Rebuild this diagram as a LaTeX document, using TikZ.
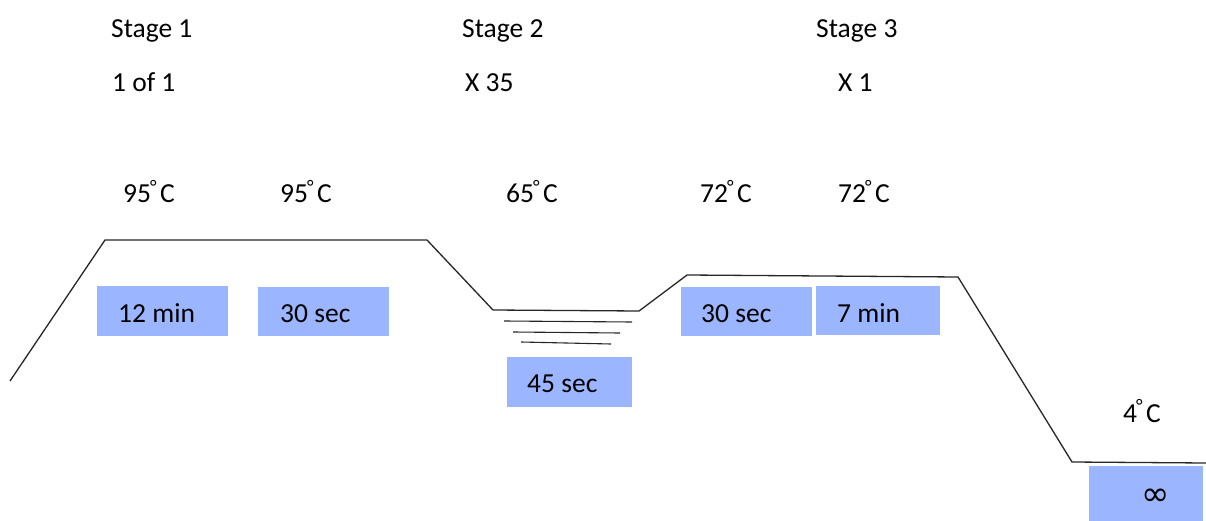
\documentclass[tikz,border=0pt]{standalone}
\usepackage{fontspec}
\setmainfont{Carlito}
\newfontfamily\symfont{DejaVu Sans}
\definecolor{boxblue}{RGB}{155,182,255}
\newcommand{\degC}{\kern-1pt\textsuperscript{°}\kern3pt C}
\tikzset{
  lbl/.style={anchor=base west, inner sep=0pt, font=\fontsize{27.5}{32}\selectfont},
  tbox/.style={fill=boxblue, draw=none},
  curve/.style={line width=1.3pt, draw=black!85},
  tick/.style={line width=1.1pt, draw=black!85}
}
\begin{document}
\begin{tikzpicture}[x=1pt,y=-1pt]
\useasboundingbox (0,0) rectangle (1206,521);
% boxes
\fill[tbox] (97,286) rectangle (228,336);
\fill[tbox] (258,287) rectangle (389,336);
\fill[tbox] (507,357) rectangle (632,407);
\fill[tbox] (681,287) rectangle (812,336);
\fill[tbox] (816,286) rectangle (940,335);
\fill[tbox] (1089,466) rectangle (1203,521);
% profile
\draw[curve] (10,381) -- (105,240) -- (427,240) -- (493,310) -- (639,311) -- (687,275) -- (958,277) -- (1072,462) -- (1206,463);
% hold lines
\draw[tick] (504,321) -- (632,322);
\draw[tick] (513,332) -- (620,333);
\draw[tick] (521,342) -- (611,344);
% headers
\node[lbl] (s1) at (111,38) {Stage 1};
\node[lbl] (r1) at (112,92) {1 of 1};
\node[lbl] (s2) at (462,38) {Stage 2};
\node[lbl] (r2) at (465,92) {X 35};
\node[lbl] (s3) at (816,38) {Stage 3};
\node[lbl] (r3) at (838,92) {X 1};
% temperatures
\node[lbl] (t1) at (123,203) {95\degC};
\node[lbl] (t2) at (280,203) {95\degC};
\node[lbl] (t3) at (506,203) {65\degC};
\node[lbl] (t4) at (700,203) {72\degC};
\node[lbl] (t5) at (838,203) {72\degC};
\node[lbl] (t6) at (1123,422) {4\degC};
% times
\node[lbl] (d1) at (118,322) {12 min};
\node[lbl] (d2) at (280,322) {30 sec};
\node[lbl] (d3) at (527,392) {45 sec};
\node[lbl] (d4) at (701,322) {30 sec};
\node[lbl] (d5) at (837,322) {7 min};
\node[anchor=center, inner sep=0pt, font=\symfont\fontsize{34}{34}\selectfont] (d6) at (1156,497) {∞};
\end{tikzpicture}
\end{document}
